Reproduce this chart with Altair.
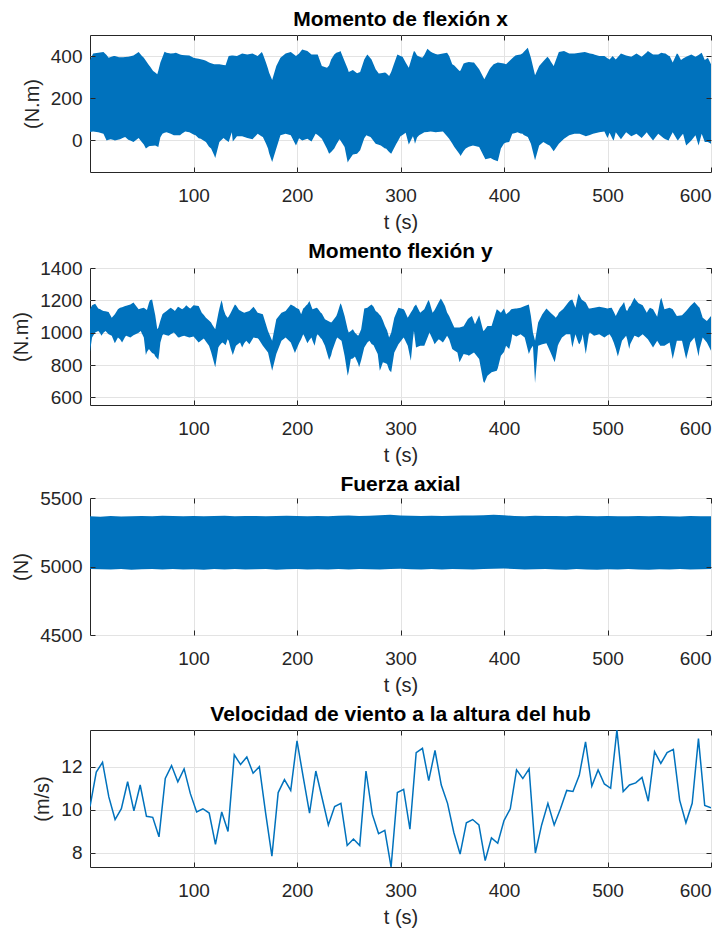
import altair as alt
import pandas as pd
import numpy as np

# ---------------- data ----------------
# Panel 1: Momento de flexión x  (envelope of dense oscillation)
MX_T = [0, 3, 8, 13, 16, 18, 20, 23, 24, 28, 29, 32, 34, 37, 39, 42, 47, 50, 52, 54,
        57, 58, 61, 63, 65, 66, 68, 70, 72, 74, 78, 81, 83, 87, 89, 92, 96, 100, 102, 105,
        107, 110, 112, 115, 117, 120, 121, 125, 129, 131, 134, 137, 138, 142, 147, 152, 157, 162, 166, 167,
        170, 172, 173, 176, 180, 184, 189, 194, 199, 202, 205, 210, 214, 218, 220, 224, 229, 231, 233, 236,
        238, 241, 242, 246, 249, 250, 254, 258, 261, 265, 267, 268, 271, 272, 276, 279, 281, 285, 286, 289,
        291, 293, 296, 297, 300, 302, 305, 308, 312, 313, 314, 316, 318, 321, 323, 326, 329, 331, 334, 336,
        341, 345, 347, 350, 352, 357, 358, 361, 363, 366, 370, 371, 376, 381, 382, 386, 387, 390, 394, 397,
        400, 402, 405, 408, 411, 413, 416, 418, 419, 423, 426, 430, 434, 438, 442, 444, 445, 448, 453, 458,
        463, 468, 473, 478, 479, 483, 486, 487, 492, 497, 500, 502, 505, 506, 508, 513, 518, 523, 528, 533,
        538, 539, 544, 549, 552, 554, 556, 559, 560, 563, 567, 568, 571, 573, 576, 581, 585, 588, 591, 594,
        597, 600]
MX_UP = [380, 412, 416, 419, 405, 392, 396, 400, 400, 395, 395, 395, 396, 397, 399, 403, 419, 402, 392, 378,
         356, 350, 329, 322, 314, 330, 369, 395, 420, 416, 412, 414, 416, 408, 405, 404, 403, 392, 390, 387,
         385, 381, 378, 369, 366, 361, 361, 361, 358, 356, 400, 403, 403, 400, 412, 408, 412, 400, 419, 410,
         369, 340, 322, 287, 353, 392, 412, 419, 400, 412, 431, 424, 408, 408, 408, 353, 345, 355, 384, 408,
         416, 420, 424, 376, 340, 325, 334, 318, 325, 384, 400, 408, 390, 384, 337, 317, 318, 322, 320, 306,
         325, 353, 395, 408, 400, 397, 369, 345, 410, 424, 420, 403, 398, 392, 405, 435, 422, 416, 410, 408,
         412, 416, 400, 361, 355, 329, 332, 365, 368, 372, 370, 369, 337, 290, 300, 337, 345, 361, 369, 367,
         365, 361, 376, 390, 403, 405, 408, 414, 419, 439, 392, 309, 353, 376, 397, 385, 376, 353, 419, 424,
         412, 412, 416, 419, 418, 412, 410, 408, 400, 400, 390, 384, 400, 395, 384, 412, 403, 397, 412, 397,
         418, 424, 408, 408, 416, 414, 412, 402, 400, 369, 412, 410, 381, 388, 397, 408, 397, 405, 416, 381,
         392, 361]
MX_LO = [40, 42, 39, 31, 0, 3, 5, 2, 0, 4, 5, 12, 16, 3, 0, -8, 11, -8, -20, -39,
         -28, -27, -25, -24, -29, -31, 15, 31, 36, 39, 32, 24, 24, 24, 33, 42, 39, 28, 24, 10,
         8, -2, -8, -30, -39, -70, -83, -8, 11, 3, -8, 39, -5, 20, 20, 11, 5, 31, 18, 16,
         -15, -39, -60, -102, -39, 24, 31, 24, -24, 10, 0, 8, -5, 31, 25, 8, -40, -63, -55, -39,
         -20, 5, 0, -31, -105, -95, -67, -63, -47, 10, 24, 22, 16, 10, -16, -21, -24, -38, -39, -55,
         -63, -45, -16, -8, 20, 25, 36, -20, 20, 5, -16, 14, 24, 33, 39, 40, 42, 41, 39, 40,
         42, 20, 8, -15, -31, -65, -74, -50, -39, -30, -24, -25, -31, -80, -89, -85, -83, -92, -99, -39,
         -15, -10, -8, 31, 35, 39, 33, 31, 25, 16, -16, -94, -24, -8, -20, -24, -30, -52, -16, 8,
         24, 31, 31, 22, 20, 25, 31, 33, 39, 42, 11, 36, 5, 0, 39, 5, 39, 20, 31, 11,
         39, 30, 0, 31, 20, 11, 5, 0, 10, 39, 5, 0, 20, 31, -24, 0, 24, -24, 31, -8,
         -8, -16]

# Panel 2: Momento flexión y
MY_T = [0, 2, 5, 8, 10, 11, 13, 15, 18, 21, 24, 27, 29, 31, 34, 35, 39, 42, 44, 47,
        49, 52, 54, 55, 57, 58, 60, 62, 63, 65, 66, 67, 68, 70, 71, 74, 76, 78, 81, 82,
        85, 86, 89, 91, 93, 96, 97, 100, 105, 108, 110, 112, 115, 117, 118, 121, 124, 125, 127, 128,
        129, 131, 133, 134, 136, 138, 140, 141, 144, 145, 147, 149, 151, 154, 158, 162, 163, 167, 172, 176,
        180, 185, 189, 194, 198, 199, 202, 204, 206, 207, 209, 210, 212, 214, 215, 217, 219, 220, 223, 224,
        227, 231, 233, 234, 238, 239, 242, 243, 246, 249, 250, 252, 254, 256, 259, 260, 262, 265, 268, 270,
        272, 274, 276, 278, 280, 281, 283, 285, 287, 289, 291, 294, 298, 303, 304, 307, 310, 312, 313, 315,
        319, 323, 327, 328, 331, 333, 335, 337, 339, 341, 343, 345, 347, 350, 352, 355, 357, 361, 365, 366,
        369, 371, 372, 376, 380, 381, 384, 388, 393, 394, 397, 400, 402, 405, 407, 408, 411, 412, 416, 420,
        424, 426, 428, 430, 433, 437, 441, 445, 449, 450, 452, 453, 456, 457, 460, 462, 464, 466, 469, 472,
        473, 475, 476, 479, 482, 483, 487, 492, 497, 500, 502, 504, 506, 508, 510, 512, 514, 516, 518, 519,
        521, 522, 526, 527, 530, 534, 538, 539, 541, 544, 548, 551, 552, 555, 560, 563, 567, 572, 576, 580,
        584, 588, 589, 592, 596, 600]
MY_UP = [1145, 1169, 1179, 1150, 1145, 1140, 1134, 1132, 1128, 1093, 1114, 1145, 1155, 1158, 1165, 1167, 1175, 1186, 1170, 1145,
         1150, 1155, 1145, 1141, 1185, 1200, 1206, 1140, 1110, 1022, 1030, 1052, 1075, 1114, 1120, 1134, 1145, 1155, 1140, 1134,
         1161, 1158, 1145, 1155, 1169, 1152, 1149, 1169, 1165, 1124, 1110, 1093, 1075, 1063, 1050, 1022, 1120, 1150, 1200, 1180,
         1145, 1110, 1093, 1100, 1124, 1150, 1175, 1170, 1141, 1138, 1130, 1124, 1128, 1134, 1161, 1124, 1122, 1114, 1011, 950,
         1083, 1124, 1134, 1175, 1160, 1155, 1145, 1114, 1150, 1155, 1169, 1175, 1196, 1160, 1145, 1150, 1155, 1150, 1124, 1118,
         1083, 1070, 1063, 1070, 1104, 1120, 1182, 1170, 1104, 1020, 1001, 1010, 1022, 1000, 981, 990, 1022, 1149, 1155, 1165,
         1175, 1160, 1134, 1125, 1110, 1104, 1075, 1042, 1015, 970, 1000, 1093, 1155, 1145, 1135, 1093, 1125, 1145, 1160, 1175,
         1124, 1145, 1202, 1190, 1124, 1140, 1165, 1190, 1212, 1190, 1165, 1125, 1104, 1060, 1032, 1032, 1032, 1040, 1083, 1090,
         1104, 1070, 1052, 1108, 1011, 1015, 1042, 1042, 1145, 1140, 1124, 1149, 1114, 1130, 1145, 1147, 1149, 1150, 1155, 1165,
         1175, 1104, 1000, 950, 1063, 1114, 1149, 1124, 1100, 1093, 1110, 1124, 1140, 1145, 1170, 1186, 1200, 1205, 1155, 1243,
         1230, 1206, 1200, 1186, 1150, 1149, 1155, 1161, 1155, 1149, 1152, 1155, 1130, 1104, 1130, 1155, 1170, 1190, 1140, 1134,
         1160, 1165, 1216, 1205, 1182, 1169, 1124, 1135, 1155, 1145, 1099, 1200, 1216, 1145, 1155, 1145, 1104, 1108, 1134, 1165,
         1190, 1160, 1155, 1093, 1073, 1104]
MY_LO = [882, 970, 1001, 1011, 995, 981, 1000, 1011, 991, 981, 935, 970, 960, 940, 975, 981, 970, 985, 991, 1000,
         1011, 970, 862, 880, 899, 890, 875, 868, 855, 840, 833, 880, 940, 985, 991, 985, 981, 990, 1001, 995,
         972, 970, 978, 981, 976, 970, 972, 976, 940, 955, 964, 945, 919, 880, 857, 786, 909, 920, 935, 940,
         935, 923, 960, 950, 900, 862, 900, 919, 935, 940, 909, 935, 950, 929, 970, 965, 960, 919, 878, 765,
         868, 950, 970, 940, 874, 890, 935, 960, 991, 980, 950, 935, 955, 970, 950, 919, 980, 991, 965, 960,
         919, 831, 860, 888, 960, 970, 955, 950, 857, 734, 760, 837, 840, 853, 810, 786, 830, 909, 940, 950,
         930, 923, 895, 868, 765, 780, 817, 812, 806, 770, 755, 878, 929, 970, 960, 919, 827, 960, 1011, 909,
         919, 919, 985, 1001, 960, 929, 945, 960, 950, 940, 960, 981, 960, 899, 890, 878, 817, 868, 862, 857,
         870, 878, 870, 837, 700, 689, 734, 755, 765, 780, 857, 880, 920, 899, 950, 991, 980, 976, 991, 970,
         868, 900, 919, 689, 919, 929, 935, 878, 817, 850, 919, 935, 970, 975, 991, 991, 991, 909, 991, 935,
         929, 960, 991, 868, 990, 1001, 981, 991, 970, 985, 991, 970, 940, 900, 853, 900, 950, 965, 981, 960,
         899, 930, 981, 980, 970, 991, 965, 960, 940, 909, 950, 919, 920, 919, 940, 837, 950, 950, 837, 940,
         970, 853, 900, 970, 940, 888]

# Panel 3: Fuerza axial
FZ_T = [0, 10, 20, 30, 40, 50, 60, 70, 80, 90, 100, 110, 120, 130, 140, 150, 160, 170, 180, 190,
        200, 210, 220, 230, 240, 250, 260, 270, 280, 290, 300, 310, 320, 330, 340, 350, 360, 370, 380, 390,
        400, 410, 420, 430, 440, 450, 460, 470, 480, 490, 500, 510, 520, 530, 540, 550, 560, 570, 580, 590, 600]
FZ_UP = [5366, 5364, 5368, 5365, 5367, 5369, 5366, 5370, 5368, 5367, 5369, 5366, 5368, 5370, 5367, 5369, 5368, 5366, 5369, 5370,
         5368, 5367, 5369, 5366, 5370, 5372, 5369, 5371, 5374, 5377, 5373, 5370, 5368, 5370, 5369, 5371, 5373, 5372, 5375, 5378,
         5374, 5369, 5367, 5370, 5368, 5369, 5367, 5370, 5368, 5366, 5369, 5367, 5366, 5368, 5366, 5369, 5367, 5365, 5368, 5366, 5367]
FZ_LO = [4982, 4980, 4979, 4981, 4977, 4980, 4982, 4979, 4981, 4978, 4980, 4977, 4981, 4979, 4982, 4978, 4980, 4981, 4977, 4980,
         4982, 4978, 4980, 4979, 4981, 4979, 4982, 4980, 4978, 4981, 4983, 4980, 4979, 4981, 4978, 4982, 4980, 4979, 4981, 4983,
         4985, 4981, 4978, 4980, 4982, 4979, 4977, 4981, 4979, 4977, 4980, 4978, 4981, 4979, 4976, 4980, 4978, 4981, 4979, 4980, 4981]

# Panel 4: Velocidad de viento a la altura del hub (100 samples over 0..600 s)
V_VAL = [10.15, 11.75, 12.2, 10.6, 9.55, 10.05, 11.3, 9.95, 11.15, 9.7,
         9.65, 8.75, 11.45, 12.05, 11.3, 11.9, 10.75, 9.9, 10.05, 9.85,
         8.4, 9.9, 9.0, 12.55, 12.1, 12.45, 11.7, 12.0, 9.85, 7.85,
         10.8, 11.4, 10.9, 13.2, 11.5, 9.85, 11.8, 10.55, 9.3, 10.15,
         10.3, 8.35, 8.65, 8.35, 11.8, 9.8, 8.9, 9.05, 7.35, 10.8,
         10.95, 9.1, 12.65, 12.85, 11.35, 12.75, 11.15, 10.3, 8.95, 7.95,
         9.4, 9.55, 9.3, 7.65, 8.7, 8.45, 9.5, 10.05, 11.85, 11.45,
         11.9, 8.0, 9.3, 10.3, 9.3, 10.05, 10.9, 10.85, 11.6, 13.15,
         11.1, 11.85, 11.2, 11.0, 13.7, 10.85, 11.15, 11.25, 11.5, 10.4,
         12.7, 12.15, 12.65, 12.8, 10.45, 9.4, 10.3, 13.3, 10.2, 10.1]
V_T = np.linspace(0, 600, len(V_VAL))

X_TICKS = [100, 200, 300, 400, 500, 600]

BLUE = "#0072BD"
INK = "#262626"
W, H = 621, 137
TICK = 5


def tick_axis(orient, values):
    return alt.Axis(orient=orient, values=values, labels=False, ticks=True, tickSize=TICK,
                    offset=-TICK, tickColor=INK, tickWidth=1, domain=False, grid=False,
                    title="", zindex=1)


def panel(df, mark, yfield, y2field, title, title_offset, ytitle, domain, yticks):
    xs = alt.Scale(domain=[0, 600], nice=False, zero=False)
    ys = alt.Scale(domain=domain, nice=False, zero=False)
    base = alt.Chart(df)

    def enc(xaxis, yaxis):
        e = dict(x=alt.X("t:Q", scale=xs, axis=xaxis),
                 y=alt.Y(yfield, scale=ys, axis=yaxis))
        if y2field:
            e["y2"] = y2field
        return e

    main_axis_x = alt.Axis(values=X_TICKS, title="t (s)", format="d")
    main_axis_y = alt.Axis(values=yticks, title=ytitle, format="d")
    if mark == "area":
        main = base.mark_area(color=BLUE, opacity=1, clip=True).encode(**enc(main_axis_x, main_axis_y))
        ghost1 = base.mark_area(opacity=0).encode(**enc(tick_axis("top", X_TICKS), tick_axis("right", yticks)))
        ghost2 = base.mark_area(opacity=0).encode(**enc(tick_axis("bottom", X_TICKS), tick_axis("left", yticks)))
    else:
        main = base.mark_line(color=BLUE, strokeWidth=1.5, clip=True).encode(**enc(main_axis_x, main_axis_y))
        ghost1 = base.mark_line(opacity=0).encode(**enc(tick_axis("top", X_TICKS), tick_axis("right", yticks)))
        ghost2 = base.mark_line(opacity=0).encode(**enc(tick_axis("bottom", X_TICKS), tick_axis("left", yticks)))
    return alt.layer(main, ghost1, ghost2, title=alt.Title(title, offset=title_offset)).resolve_axis(
        x="independent", y="independent"
    ).properties(width=W, height=H)


df1 = pd.DataFrame({"t": MX_T, "up": MX_UP, "lo": MX_LO})
df2 = pd.DataFrame({"t": MY_T, "up": MY_UP, "lo": MY_LO})
df3 = pd.DataFrame({"t": FZ_T, "up": FZ_UP, "lo": FZ_LO})
df4 = pd.DataFrame({"t": V_T, "v": V_VAL})

p1 = panel(df1, "area", "up:Q", "lo:Q", "Momento de flexión x", 5, "(N.m)", [-150, 500], [0, 200, 400])
p2 = panel(df2, "area", "up:Q", "lo:Q", "Momento flexión y", -3, "(N.m)", [553, 1400], [600, 800, 1000, 1200, 1400])
p3 = panel(df3, "area", "up:Q", "lo:Q", "Fuerza axial", -6, "(N)", [4500, 5500], [4500, 5000, 5500])
p4 = panel(df4, "line", "v:Q", None, "Velocidad de viento a la altura del hub", 5, "(m/s)",
           [min(V_VAL), max(V_VAL)], [8, 10, 12])

chart = alt.vconcat(p1, p2, p3, p4, spacing=7).properties(
    padding={"left": 3, "top": 0, "right": 0, "bottom": 0}
).configure(
    font="Liberation Sans"
).configure_view(
    stroke=INK, strokeWidth=1
).configure_axis(
    labelFontSize=19, labelColor=INK,
    titleFontSize=20, titleFontWeight="normal", titleColor=INK,
    grid=True, gridColor="#e3e3e3", gridWidth=1,
    domain=False, ticks=False,
).configure_axisX(
    labelPadding=14, titlePadding=7
).configure_axisY(
    labelPadding=8, titlePadding=8
).configure_title(
    fontSize=21, fontWeight="bold", color="#000000", anchor="middle"
)

chart.save("out.html", embed_options={"renderer": "svg", "actions": False})
